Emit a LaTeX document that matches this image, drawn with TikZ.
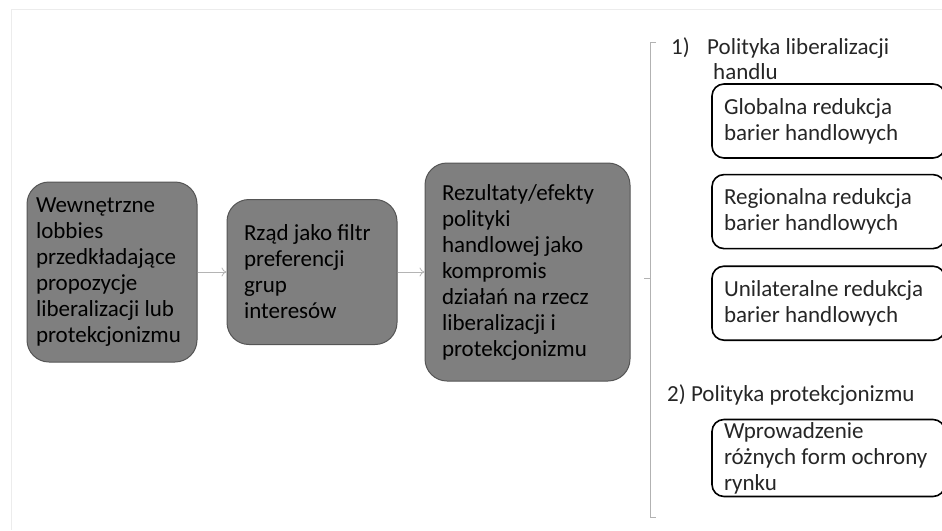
\documentclass[tikz,border=0pt]{standalone}
\usepackage{fontspec}
\setmainfont{Carlito}
\usetikzlibrary{positioning,arrows.meta}

\definecolor{boxgray}{HTML}{7F7F7F}
\definecolor{boxline}{HTML}{555555}
\definecolor{arrowgray}{HTML}{B4B4B4}
\definecolor{textgray}{HTML}{262626}

\begin{document}
\begin{tikzpicture}[x=1pt,y=-1pt,
    font=\fontsize{23}{26}\selectfont,
    stage/.style={rectangle,rounded corners=22pt,draw=boxline,line width=1pt,fill=boxgray,
      text=black,align=flush left,inner ysep=4pt},
    option/.style={rectangle,rounded corners=12pt,draw=black,line width=1.6pt,fill=white,
      text=textgray,align=flush left,text width=209pt,inner xsep=12pt,inner ysep=2pt,minimum height=74pt}]
  \useasboundingbox (0,0) rectangle (942,530);
  \draw[gray!15] (11,530) -- (11,9) -- (942,9);

  % flow of the three stages
  \node[stage,text width=152pt,inner xsep=9pt,minimum height=180pt] (lobby) at (112,272)
    {Wewnętrzne\\lobbies\\przedkładające\\propozycje\\liberalizacji lub\\protekcjonizmu};
  \node[stage,text width=136pt,inner xsep=17pt,minimum height=145pt,right=29pt of lobby] (gov)
    {Rząd jako filtr\\preferencji\\grup\\interesów};
  \node[stage,text width=171pt,inner xsep=17pt,minimum height=218pt,right=27pt of gov] (result)
    {Rezultaty/efekty\\polityki\\handlowej jako\\kompromis\\działań na rzecz\\liberalizacji i\\protekcjonizmu};

  \begin{scope}[arrowgray,line width=0.8pt,-{To[length=5pt,width=9pt]}]
    \draw (lobby) -- (gov);
    \draw (gov) -- (result);
  \end{scope}

  % bracket
  \draw[gray!60,line width=0.8pt] (656,42) -- (650,42) -- (650,517) -- (656,517);
  \draw[gray!60,line width=0.8pt] (650,278) -- (644,278);

  % options
  \begin{scope}[every node/.style={text=textgray,anchor=west,inner sep=0pt}]
    \node (num1) at (671,48) {1)};
    \node (lib) at (707,48) {Polityka liberalizacji};
    \node (libb) at (713,72) {handlu};
    \node (prot) at (667,395) {2) Polityka protekcjonizmu};
  \end{scope}

  \node[option] (glob) at (828.5,121) {Globalna redukcja\\barier handlowych};
  \node[option,below=15pt of glob] (reg) {Regionalna redukcja\\barier handlowych};
  \node[option,below=16pt of reg] (uni) {Unilateralne redukcja\\barier handlowych};
  \node[option,inner ysep=0pt,minimum height=77pt] (ochr) at (828.5,458)
    {Wprowadzenie\\różnych form ochrony\\rynku};
\end{tikzpicture}
\end{document}
